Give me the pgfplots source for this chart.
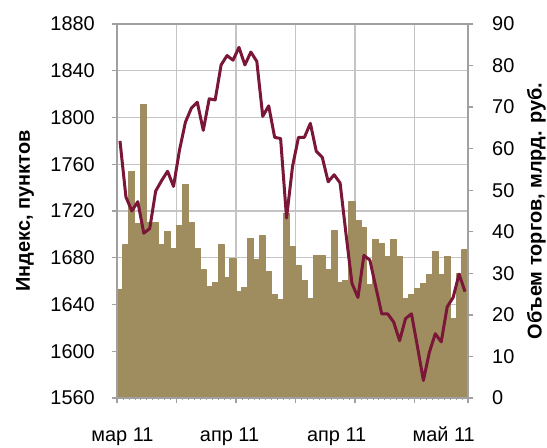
\documentclass[border=0pt]{standalone}
\usepackage{fontspec}
\setmainfont{Liberation Sans}
\usepackage{pgfplots}
\usepackage{pgfplotstable}
\pgfplotsset{compat=1.18}
\definecolor{barc}{RGB}{160,141,95}
\definecolor{linec}{RGB}{122,22,56}
\definecolor{gridc}{RGB}{196,196,196}
\definecolor{axc}{RGB}{160,160,160}

\pgfplotstableread{
i idx vol
0 1780 26.2
1 1732 36.8
2 1720 54.6
3 1728 42.0
4 1701 70.7
5 1705 42.2
6 1737 42.2
7 1746 36.8
8 1754 40.0
9 1741 36.0
10 1772 41.6
11 1796 51.4
12 1808 42.2
13 1813 36.0
14 1789 30.8
15 1816 26.8
16 1815 27.8
17 1845 37.0
18 1853 29.0
19 1849 33.6
20 1860 25.6
21 1845 26.6
22 1856 38.4
23 1848 33.2
24 1801 39.0
25 1810 30.4
26 1783 25.0
27 1782 23.6
28 1714 44.4
29 1758 36.4
30 1783 31.8
31 1783 28.2
32 1795 24.0
33 1771 34.2
34 1766 34.2
35 1745 31.0
36 1751 40.2
37 1744 27.8
38 1700 28.2
39 1658 47.2
40 1646 42.8
41 1682 41.0
42 1678 27.2
43 1655 38.2
44 1632 37.2
45 1632 34.0
46 1625 38.2
47 1609 34.0
48 1628 24.0
49 1632 24.8
50 1604 26.4
51 1575 27.6
52 1599 29.6
53 1615 35.2
54 1608 29.6
55 1638 34.0
56 1646 19.2
57 1666 30.0
58 1651 35.6
}\data

\begin{document}
\begin{tikzpicture}[x=1bp,y=1bp]
\useasboundingbox (0,0) rectangle (547,448);
\pgfplotsset{
  base/.style={
    at={(117bp,50bp)}, anchor=south west, scale only axis,
    width=351bp, height=374bp,
    xmin=-0.5, xmax=58.5,
    /pgf/number format/assume math mode=true,
    /pgf/number format/set thousands separator={},
    tick label style={font=\fontsize{20}{24}\selectfont, inner sep=0pt},
  }
}
% grid
\begin{axis}[base, ymin=1560, ymax=1880,
  ytick={1600,1640,...,1840}, xtick={9.5,19.5,29.5,39.5,49.5},
  xticklabels={}, yticklabels={}, major tick length=0pt,
  axis line style={draw=none}, grid=major,
  grid style={gridc, line width=1.4bp}]
\addplot[draw=none] coordinates {(0,1700)};
\end{axis}
% bars
\begin{axis}[base, ymin=0, ymax=90, axis x line=none, axis y line*=right,
  ytick={0,10,...,90}, tick align=outside, major tick length=5bp,
  axis line style={axc, line width=1.3bp, -}, tick style={axc, line width=1.3bp},
  yticklabel style={anchor=west, xshift=19bp},
  ylabel={Объем торгов, млрд. руб.},
  ylabel style={at={(axis description cs:1.195,0.5)}, anchor=center, rotate=0,
    font=\bfseries\fontsize{20}{24}\selectfont}]
\addplot[ybar, bar width=1, bar shift=0, fill=barc, draw=barc,
  line width=1.2bp, line join=round] table[x=i, y=vol] {\data};
\end{axis}
% line + frame
\begin{axis}[base, ymin=1560, ymax=1880,
  ytick={1560,1600,...,1880}, ytick pos=left,
  xtick={-0.5,9.5,19.5,29.5,39.5,49.5,58.5}, xtick pos=bottom,
  xticklabels={},
  minor xtick={0.5,1.5,...,57.5},
  tick align=outside, major tick length=5bp, minor tick length=2bp,
  axis line style={axc, line width=1.3bp},
  major tick style={axc, line width=1.3bp},
  minor tick style={axc, line width=0.6bp},
  yticklabel style={anchor=east, xshift=-17bp},
  extra x ticks={0,18,36,54},
  extra x tick labels={мар 11, апр 11, апр 11, май 11},
  extra x tick style={major tick length=0pt, grid=none,
    xticklabel style={anchor=base, yshift=-44bp, xshift=2.5bp}},
  ylabel={Индекс, пунктов},
  ylabel style={at={(axis description cs:-0.262,0.5)}, anchor=center,
    font=\bfseries\fontsize{20}{24}\selectfont}]
\addplot[linec, line width=3bp, line join=round, mark=none] table[x=i, y=idx] {\data};
\end{axis}
\end{tikzpicture}
\end{document}
